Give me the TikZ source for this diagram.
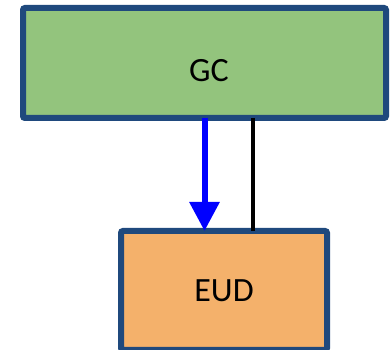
\documentclass[tikz,border=0pt]{standalone}
\usepackage{fontspec}
\setmainfont{Carlito}
\usetikzlibrary{arrows.meta}
\definecolor{boxborder}{RGB}{31,73,125}
\definecolor{gcfill}{RGB}{147,196,125}
\definecolor{eudfill}{RGB}{244,177,107}
\begin{document}
\begin{tikzpicture}[x=1pt,y=-1pt,
  box/.style={draw=boxborder, line width=6pt, rounded corners=2pt, outer sep=0pt, inner sep=0pt, rectangle},
  lbl/.style={font=\fontsize{34}{40}\selectfont, text=black, inner sep=0pt},
  bluearrow/.style={draw=blue, line width=6pt, -{Triangle[width=29pt,length=29pt]}},
  blackline/.style={draw=black, line width=4pt}]
\useasboundingbox (0,0) rectangle (392,350);
\begin{scope}
\clip (0,0) rectangle (392,350);
\node[box, fill=gcfill, minimum width=363pt, minimum height=110pt] (gc) at (204.5,63) {};
\node[box, fill=eudfill, minimum width=206pt, minimum height=119pt] (eud) at (224,290.5) {};
\end{scope}
\node[lbl] (gct) at (209,71) {GC};
\node[lbl] (eudt) at (224,291) {EUD};
\coordinate (bx) at (253,0);
\draw[bluearrow] (gc.south) -- (gc.south |- eud.north);
\draw[blackline] (gc.south -| bx) -- (eud.north -| bx);
\end{tikzpicture}
\end{document}
